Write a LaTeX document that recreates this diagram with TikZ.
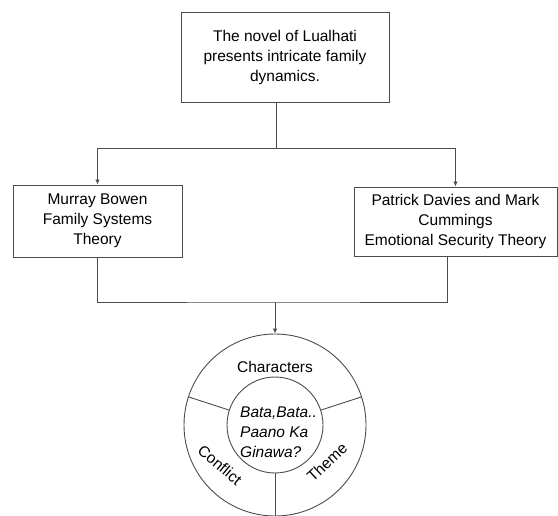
\documentclass[tikz,border=0pt]{standalone}
\usepackage{fontspec}
\setmainfont{Liberation Sans}
\usetikzlibrary{arrows.meta}

\begin{document}
\begin{tikzpicture}[x=1pt,y=-1pt]
\tikzstyle{every node}+=[inner sep=0pt, font=\fontsize{15.5}{20}\selectfont]
\tikzstyle{topicbox}=[draw=black!70, line width=0.9pt, align=center]
\tikzstyle{ring}=[draw=black!70, line width=0.9pt, circle]
\tikzstyle{link}=[draw=black!70, line width=0.9pt]
\tikzstyle{linkarrow}=[link, -{Latex[length=5pt,width=4.5pt]}]
\useasboundingbox (0,0) rectangle (558,516);
% boxes
\node [topicbox, minimum width=208, minimum height=90] (novel) at (285,57) {The novel of Lualhati\\presents intricate family\\dynamics.};
\node [topicbox, minimum width=169, minimum height=72] (bowen) at (97.5,221) {Murray Bowen\\Family Systems\\Theory};
\node [topicbox, minimum width=203, minimum height=69] (davies) at (455.5,221.5) {Patrick Davies and Mark\\Cummings\\Emotional Security Theory};
% wheel
\node [ring, minimum size=182] (wheel) at (275,425) {};
\node [ring, minimum size=96] (hub) at (275,425) {};
\node [anchor=west, align=left, font=\fontsize{15.5}{20}\selectfont\itshape] (title) at (240,432) {Bata,Bata..\\Paano Ka\\Ginawa?};
\node (characters) at (275,367) {Characters};
\node [rotate=-40] (conflict) at (220,465) {Conflict};
\node [rotate=43] (theme) at (327,462) {Theme};
\foreach \a in {18,162,270}
  \draw [link] (hub.\a) -- (wheel.\a);
% connectors
\coordinate (fork) at (276,148);
\coordinate (merge) at (275,302);
\draw [link] (novel.south -| fork) -- (fork);
\draw [linkarrow] (fork) -| (bowen.north);
\draw [linkarrow] (fork) -| (davies.north);
\draw [link] (bowen.south) |- (merge) -| ([xshift=-8.5]davies.south);
\draw [linkarrow] (merge) -- (wheel.north);
\end{tikzpicture}
\end{document}
